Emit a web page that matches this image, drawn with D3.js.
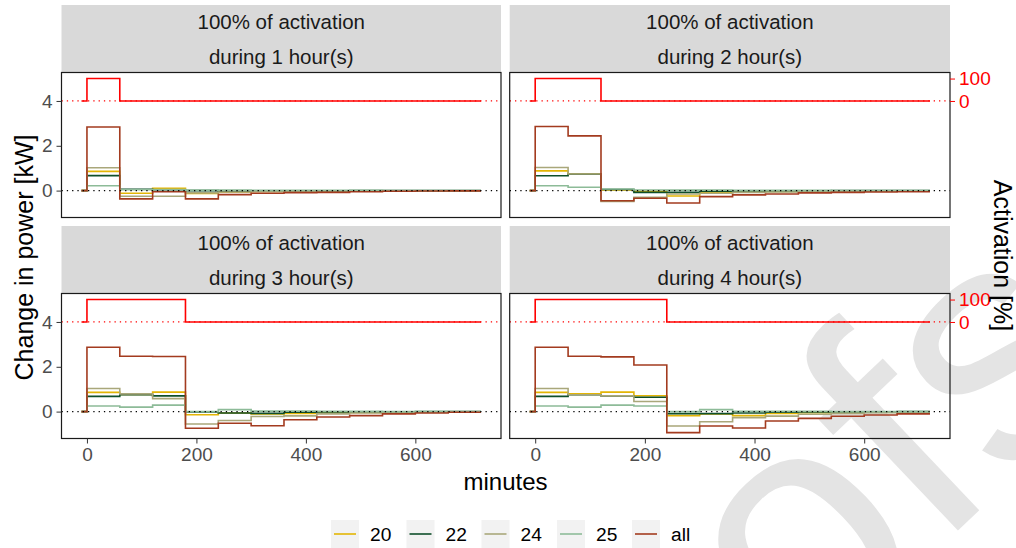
<!DOCTYPE html>
<html>
<head>
<meta charset="utf-8">
<script src="https://cdn.jsdelivr.net/npm/d3@7"></script>
<style>
  body { margin: 0; background: #ffffff; }
  svg text { font-family: "Liberation Sans", Arial, Helvetica, sans-serif; }
</style>
</head>
<body>
<svg id="chart" width="1016" height="548"></svg>
<script>
// Time stamps (minutes) at which each hourly step starts; the last one closes the final step.
const minutes = [-10, 0, 60, 120, 180, 240, 300, 360, 420, 480, 540, 600, 660, 720];

// Series names and colours
const seriesNames = ["20", "22", "24", "25", "all"];
const seriesColors = ["#e3b505", "#0f4f2a", "#a9a77a", "#8dbb98", "#a33b1f"];

// Facet titles
const panelTitles = [
  ["100% of activation", "during 1 hour(s)"],
  ["100% of activation", "during 2 hour(s)"],
  ["100% of activation", "during 3 hour(s)"],
  ["100% of activation", "during 4 hour(s)"]
];

// Activation level [%] for each hour (0..11), one list per facet
const activation1 = [100, 0, 0, 0, 0, 0, 0, 0, 0, 0, 0, 0];
const activation2 = [100, 100, 0, 0, 0, 0, 0, 0, 0, 0, 0, 0];
const activation3 = [100, 100, 100, 0, 0, 0, 0, 0, 0, 0, 0, 0];
const activation4 = [100, 100, 100, 100, 0, 0, 0, 0, 0, 0, 0, 0];

// Change in power [kW] per hour (0..11) — 1 hour of activation
const p1_20  = [0.86, -0.12, 0.10, -0.13, -0.06, -0.04, -0.03, -0.02, -0.02, -0.01, -0.01, -0.01];
const p1_22  = [0.67, 0.06, 0.04, 0.00, -0.03, -0.02, -0.01, -0.01, 0.00, 0.00, 0.00, 0.00];
const p1_24  = [1.02, -0.25, -0.25, -0.10, -0.06, -0.04, -0.03, -0.02, -0.02, -0.01, -0.01, -0.01];
const p1_25  = [0.22, 0.04, 0.05, 0.02, 0.02, 0.01, 0.01, 0.01, 0.01, 0.00, 0.00, 0.00];
const p1_all = [2.84, -0.37, -0.05, -0.37, -0.18, -0.12, -0.09, -0.08, -0.05, -0.03, -0.02, -0.01];

// 2 hours of activation
const p2_20  = [0.88, 0.74, 0.03, -0.03, -0.24, -0.10, -0.06, -0.04, -0.03, -0.02, -0.01, -0.01];
const p2_22  = [0.66, 0.73, 0.05, -0.08, -0.08, -0.03, -0.02, -0.01, -0.01, 0.00, 0.00, 0.00];
const p2_24  = [1.03, 0.74, -0.48, -0.30, -0.15, -0.12, -0.08, -0.06, -0.04, -0.03, -0.02, -0.02];
const p2_25  = [0.22, 0.15, 0.07, 0.03, 0.02, 0.02, 0.01, 0.01, 0.01, 0.00, 0.00, 0.00];
const p2_all = [2.86, 2.44, -0.45, -0.34, -0.55, -0.27, -0.19, -0.15, -0.10, -0.08, -0.06, -0.05];

// 3 hours of activation
const p3_20  = [0.86, 0.77, 0.87, -0.14, -0.06, -0.10, -0.08, -0.05, -0.04, -0.03, -0.02, -0.01];
const p3_22  = [0.68, 0.75, 0.70, -0.02, -0.06, -0.08, -0.03, -0.02, -0.01, -0.01, 0.00, 0.00];
const p3_24  = [1.03, 0.79, 0.58, -0.55, -0.40, -0.22, -0.19, -0.10, -0.06, -0.04, -0.03, -0.02];
const p3_25  = [0.25, 0.20, 0.29, 0.00, 0.09, 0.02, 0.02, 0.01, 0.01, 0.00, 0.00, 0.00];
const p3_all = [2.87, 2.47, 2.46, -0.74, -0.52, -0.63, -0.36, -0.24, -0.18, -0.10, -0.06, -0.03];

// 4 hours of activation
const p4_20  = [0.86, 0.79, 0.87, 0.71, -0.18, -0.10, -0.18, -0.08, -0.05, -0.04, -0.03, -0.02];
const p4_22  = [0.68, 0.75, 0.70, 0.64, -0.09, -0.09, -0.06, -0.03, -0.02, -0.01, -0.01, 0.00];
const p4_24  = [1.03, 0.75, 0.70, 0.45, -0.64, -0.45, -0.27, -0.20, -0.12, -0.08, -0.05, -0.04];
const p4_25  = [0.25, 0.20, 0.29, 0.25, 0.00, 0.09, 0.01, 0.01, 0.01, 0.00, 0.00, 0.00];
const p4_all = [2.87, 2.47, 2.44, 2.08, -0.94, -0.64, -0.73, -0.42, -0.30, -0.21, -0.15, -0.10];

// Axis ticks
const xTicks = [0, 200, 400, 600];
const yTicks = [0, 2, 4];
const activationTicks = [0, 100];

const panels = [
  { title: panelTitles[0], act: activation1, series: [p1_20, p1_22, p1_24, p1_25, p1_all] },
  { title: panelTitles[1], act: activation2, series: [p2_20, p2_22, p2_24, p2_25, p2_all] },
  { title: panelTitles[2], act: activation3, series: [p3_20, p3_22, p3_24, p3_25, p3_all] },
  { title: panelTitles[3], act: activation4, series: [p4_20, p4_22, p4_24, p4_25, p4_all] }
];

// ---- layout ----
const colX = [[61.5, 501], [509.7, 950]];
const stripH = 67.5, plotH = 145;
const rowTop = [5, 226];

const svg = d3.select("#chart");

// Proof watermark, behind everything
svg.append("text")
  .attr("transform", "translate(1125,372) rotate(-43.5)")
  .attr("text-anchor", "end")
  .attr("font-size", 334)
  .attr("fill", "#e4e4e4")
  .text("Journal Pre-proofs");

// step points: value held from each hour start to the next, zero before t = 0
function stepPoints(vals) {
  const pts = [[minutes[0], 0]];
  vals.forEach((v, i) => pts.push([minutes[i + 1], v]));
  pts.push([minutes[minutes.length - 1], vals[vals.length - 1]]);
  return pts;
}

panels.forEach((p, i) => {
  const col = i % 2, row = Math.floor(i / 2);
  const [x0, x1] = colX[col];
  const sTop = rowTop[row];
  const pTop = sTop + stripH, pBot = pTop + plotH;

  const x = d3.scaleLinear().domain([-46.5, 756.5]).range([x0, x1]);
  const y = d3.scaleLinear().domain([-1.2, 5.27]).range([pBot, pTop]);
  const yAct = d3.scaleLinear().domain([(-1.2 - 4) * 100, (5.27 - 4) * 100]).range([pBot, pTop]);

  // strip
  svg.append("rect").attr("x", x0).attr("y", sTop).attr("width", x1 - x0).attr("height", stripH)
    .attr("fill", "#d9d9d9");
  p.title.forEach((t, k) => {
    svg.append("text").attr("x", (x0 + x1) / 2).attr("y", sTop + 24 + k * 34.5)
      .attr("text-anchor", "middle").attr("font-size", 20.5).attr("fill", "#1a1a1a").text(t);
  });

  const g = svg.append("g");
  const line = d3.line().x(d => x(d[0])).y(d => y(d[1])).curve(d3.curveStepAfter);

  p.series.forEach((vals, k) => {
    g.append("path").datum(stepPoints(vals))
      .attr("d", line).attr("fill", "none")
      .attr("stroke", seriesColors[k]).attr("stroke-width", 1.6);
  });

  // activation drawn on the secondary scale (0 % at 4 kW, 100 % at 5 kW)
  const actLine = d3.line().x(d => x(d[0])).y(d => yAct(d[1])).curve(d3.curveStepAfter);
  g.append("path").datum(stepPoints(p.act))
    .attr("d", actLine).attr("fill", "none").attr("stroke", "#ff0000").attr("stroke-width", 1.6);

  // reference lines
  g.append("line").attr("x1", x0).attr("x2", x1).attr("y1", y(0)).attr("y2", y(0))
    .attr("stroke", "#000").attr("stroke-width", 1.3).attr("stroke-dasharray", "1.3,4");
  g.append("line").attr("x1", x0).attr("x2", x1).attr("y1", yAct(0)).attr("y2", yAct(0))
    .attr("stroke", "#ff0000").attr("stroke-width", 1.3).attr("stroke-dasharray", "1.3,4");

  // panel border
  svg.append("rect").attr("x", x0).attr("y", pTop).attr("width", x1 - x0).attr("height", plotH)
    .attr("fill", "none").attr("stroke", "#1a1a1a").attr("stroke-width", 1.2);

  if (col === 0) {
    const ax = svg.append("g").attr("transform", `translate(${x0},0)`)
      .call(d3.axisLeft(y).tickValues(yTicks).tickSize(5).tickPadding(4).tickFormat(d3.format("d")));
    ax.select(".domain").remove();
    ax.selectAll("line").attr("stroke", "#333");
    ax.selectAll("text").attr("fill", "#4d4d4d").attr("font-size", 19)
      .attr("font-family", "Liberation Sans, Arial, sans-serif");
  }
  if (col === 1) {
    const ax = svg.append("g").attr("transform", `translate(${x1},0)`)
      .call(d3.axisRight(yAct).tickValues(activationTicks).tickSize(5).tickPadding(4).tickFormat(d3.format("d")));
    ax.select(".domain").remove();
    ax.selectAll("line").attr("stroke", "#ff0000");
    ax.selectAll("text").attr("fill", "#ff0000").attr("font-size", 19)
      .attr("font-family", "Liberation Sans, Arial, sans-serif");
  }
  if (row === 1) {
    const ax = svg.append("g").attr("transform", `translate(0,${pBot})`)
      .call(d3.axisBottom(x).tickValues(xTicks).tickSize(5).tickPadding(4.5).tickFormat(d3.format("d")));
    ax.select(".domain").remove();
    ax.selectAll("line").attr("stroke", "#333");
    ax.selectAll("text").attr("fill", "#4d4d4d").attr("font-size", 19)
      .attr("font-family", "Liberation Sans, Arial, sans-serif");
  }
});

// axis titles
svg.append("text").attr("transform", "translate(33,257.5) rotate(-90)")
  .attr("text-anchor", "middle").attr("font-size", 25).attr("fill", "#000")
  .text("Change in power [kW]");
svg.append("text").attr("x", 505.5).attr("y", 490)
  .attr("text-anchor", "middle").attr("font-size", 24).attr("fill", "#000")
  .text("minutes");
svg.append("text").attr("transform", "translate(994,255.5) rotate(90)")
  .attr("text-anchor", "middle").attr("font-size", 25).attr("fill", "#000")
  .text("Activation [%]");

// legend
const legendX = [331, 406.5, 481.5, 557, 632];
seriesNames.forEach((name, k) => {
  const lx = legendX[k];
  svg.append("rect").attr("x", lx).attr("y", 520).attr("width", 28).attr("height", 28).attr("fill", "#f2f2f2");
  svg.append("line").attr("x1", lx + 3).attr("x2", lx + 25).attr("y1", 534).attr("y2", 534)
    .attr("stroke", seriesColors[k]).attr("stroke-width", 1.6);
  svg.append("text").attr("x", lx + 39).attr("y", 541).attr("font-size", 19.2).attr("fill", "#000").text(name);
});
</script>
</body>
</html>
